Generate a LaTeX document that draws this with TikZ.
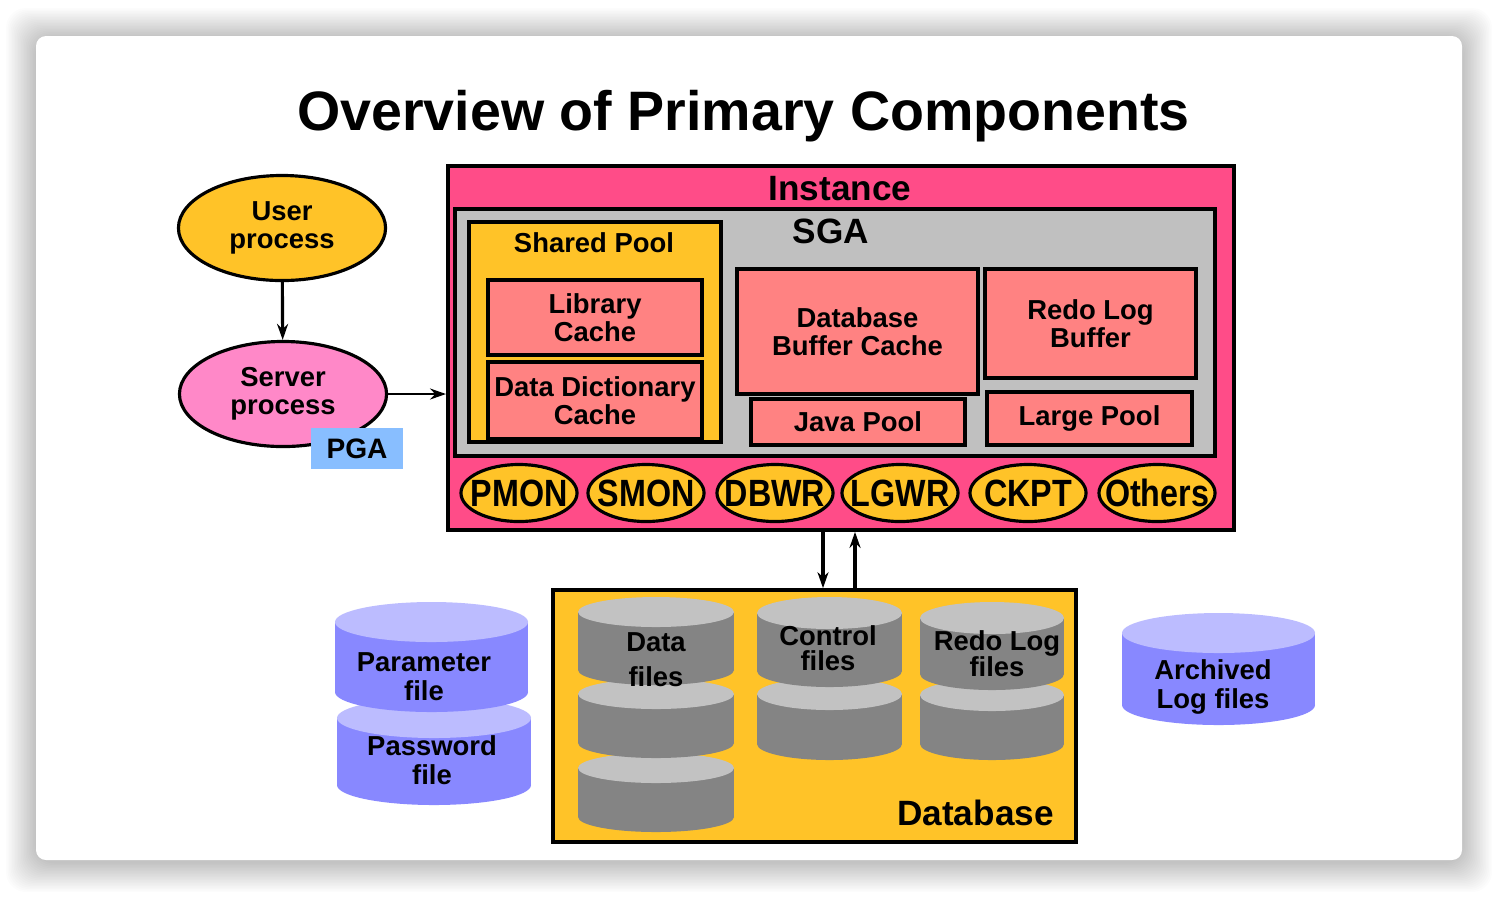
\documentclass[tikz,border=0pt]{standalone}
\usepackage{fontspec}
\setmainfont{Liberation Sans}
\newfontfamily\procfont[FakeStretch=0.85]{Liberation Sans}
\usetikzlibrary{shapes.geometric,arrows.meta,positioning}

\definecolor{instpink}{HTML}{FF4C88}
\definecolor{sgagray}{HTML}{C0C0C0}
\definecolor{poolgold}{HTML}{FFC328}
\definecolor{cachered}{HTML}{FF8282}
\definecolor{srvpink}{HTML}{FF88C8}
\definecolor{pgablue}{HTML}{88BEFF}
\definecolor{diskblue}{HTML}{8888FF}
\definecolor{disktop}{HTML}{BCBCFF}
\definecolor{drumgray}{HTML}{848484}
\definecolor{drumtop}{HTML}{C2C2C2}

% let tight two-line labels overlap as in the slide
\lineskiplimit=-100pt

% cylinder: centre x, top y, bottom y, half width, end radius, side colour, end colour
\newcommand{\drawdrum}[7]{%
  \fill[#6] (#1-#4,#2+#5) rectangle (#1+#4,#3-#5);
  \fill[#6] (#1,#3-#5) ellipse [x radius=#4, y radius=#5];
  \fill[#7] (#1,#2+#5) ellipse [x radius=#4, y radius=#5];
}

\begin{document}
\begin{tikzpicture}[
    x=0.01cm, y=-0.01cm,
    box/.style={rectangle, draw=black, line width=1pt, inner sep=0pt, align=center, font=\bfseries\fontsize{7.8}{8}\selectfont},
    cachebox/.style={box, fill=cachered},
    headlabel/.style={anchor=base, inner sep=0pt, font=\bfseries\fontsize{10}{11}\selectfont},
    boxlabel/.style={anchor=base, inner sep=0pt, font=\bfseries\fontsize{7.8}{8}\selectfont},
    procell/.style={ellipse, draw=black, line width=0.9pt, fill=poolgold, minimum width=1.16cm, minimum height=0.57cm, inner sep=0pt},
    proctext/.style={inner sep=0pt, font=\procfont\bfseries\fontsize{10.8}{11}\selectfont},
    bigell/.style={ellipse, draw=black, line width=0.9pt, minimum width=2.07cm, minimum height=1.05cm, inner sep=0pt, align=center, font=\bfseries\fontsize{7.8}{8}\selectfont},
    disklabel/.style={align=center, inner sep=0pt, font=\bfseries\fontsize{7.8}{#1}\selectfont},
    disklabel/.default=8.2,
    arrow/.style={-{Stealth[length=1.6mm, width=1.1mm]}, line width=0.9pt}
]
\useasboundingbox (0,0) rectangle (1498,896);
\fill[white] (0,0) rectangle (1498,896);

% === card with soft shadow ===
\foreach \k in {1,...,20}
    \fill[black, opacity=0.012, rounded corners=0.2cm] (36-1.5*\k,38-1.5*\k) rectangle (1462+1.5*\k,862+1.5*\k);
\fill[white, rounded corners=0.1cm] (36,36) rectangle (1462,860);

\node[inner sep=0pt, anchor=base, font=\bfseries\fontsize{15.8}{18}\selectfont] (title) at (743.5,130) {Overview of Primary Components};

% === INSTANCE ===
\node[box, fill=instpink, minimum width=7.86cm, minimum height=3.64cm] (instance) at (841,348) {};
\node[headlabel] (inst-label) at (840,200) {Instance};
\node[box, fill=sgagray, minimum width=7.60cm, minimum height=2.47cm] (sga) at (835,332.5) {};
\node[headlabel] (sga-label) at (831,243) {SGA};

% Shared pool
\node[box, fill=poolgold, minimum width=2.52cm, minimum height=2.20cm] (shared) at (595,332) {};
\node[boxlabel] (shared-label) at (594,252) {Shared Pool};
\node[cachebox, minimum width=2.14cm, minimum height=0.75cm] (libcache) at (595,317.5) {Library\\Cache};
\node[cachebox, minimum width=2.14cm, minimum height=0.77cm] (dictcache) at (595,400.5) {Data Dictionary\\Cache};

% Other SGA areas
\node[cachebox, minimum width=2.41cm, minimum height=1.25cm] (bufcache) at (857.5,331.5) {Database\\Buffer Cache};
\node[cachebox, minimum width=2.11cm, minimum height=1.09cm] (redobuf) at (1090.5,323.5) {Redo Log\\Buffer};
\node[cachebox, minimum width=2.14cm, minimum height=0.46cm] (javapool) at (858,422) {Java Pool};
\node[cachebox, minimum width=2.05cm, minimum height=0.53cm] (largepool) at (1089.5,418.5) {Large Pool};

% Background processes
\foreach \name/\px in {PMON/519, SMON/646, DBWR/775, LGWR/900, CKPT/1028, Others/1157}
    \node[procell, label={[proctext]center:\name}] (\name) at (\px,493) {};

% === USER / SERVER ===
\node[bigell, fill=poolgold] (user) at (282,228) {User\\process};
\node[bigell, fill=srvpink] (server) at (283,394) {Server\\process};
\node[rectangle, fill=pgablue, minimum width=0.92cm, minimum height=0.41cm, inner sep=0pt, font=\bfseries\fontsize{8}{9}\selectfont] (pga) at (357,448.5) {PGA};

\draw[arrow] (user) -- (server);
\draw[arrow, line width=0.7pt] (server.east) -- (server.east -| instance.west);

% === DATABASE ===
\node[box, fill=poolgold, minimum width=5.23cm, minimum height=2.52cm] (database) at (814.5,716) {};
\node[headlabel] (db-label) at (975.5,825) {Database};

\draw[arrow] ([xshift=-0.18cm]instance.south) -- ([xshift=-0.18cm]instance.south |- database.north);
\draw[arrow] ([xshift=0.14cm]instance.south |- database.north) -- ([xshift=0.14cm]instance.south);

% Data files
\drawdrum{656}{753}{832}{78}{15}{drumgray}{drumtop}
\drawdrum{656}{679}{758}{78}{15}{drumgray}{drumtop}
\drawdrum{656}{597}{685}{78}{15}{drumgray}{drumtop}
% Control files
\drawdrum{829.5}{678}{760}{72.5}{16}{drumgray}{drumtop}
\drawdrum{829.5}{597}{687}{72.5}{16}{drumgray}{drumtop}
% Redo log files
\drawdrum{992}{679}{760}{72}{16}{drumgray}{drumtop}
\drawdrum{992}{602}{690}{72}{16}{drumgray}{drumtop}

\node[disklabel=10] (data-lbl) at (656,660) {Data\\files};
\node[disklabel=7] (ctrl-lbl) at (828,648) {Control\\files};
\node[disklabel=7.4] (redo-lbl) at (997,654) {Redo Log\\files};

% === OUTSIDE FILES ===
\drawdrum{434}{698}{805}{97}{20}{diskblue}{disktop}
\drawdrum{431.5}{602}{712}{96.5}{20}{diskblue}{disktop}
\drawdrum{1218.5}{613}{725}{96.5}{20}{diskblue}{disktop}

\node[disklabel] (param-lbl) at (424,677) {Parameter\\file};
\node[disklabel] (pwd-lbl) at (432,760) {Password\\file};
\node[disklabel] (arch-lbl) at (1213,687) {Archived\\Log files};

\end{tikzpicture}
\end{document}
